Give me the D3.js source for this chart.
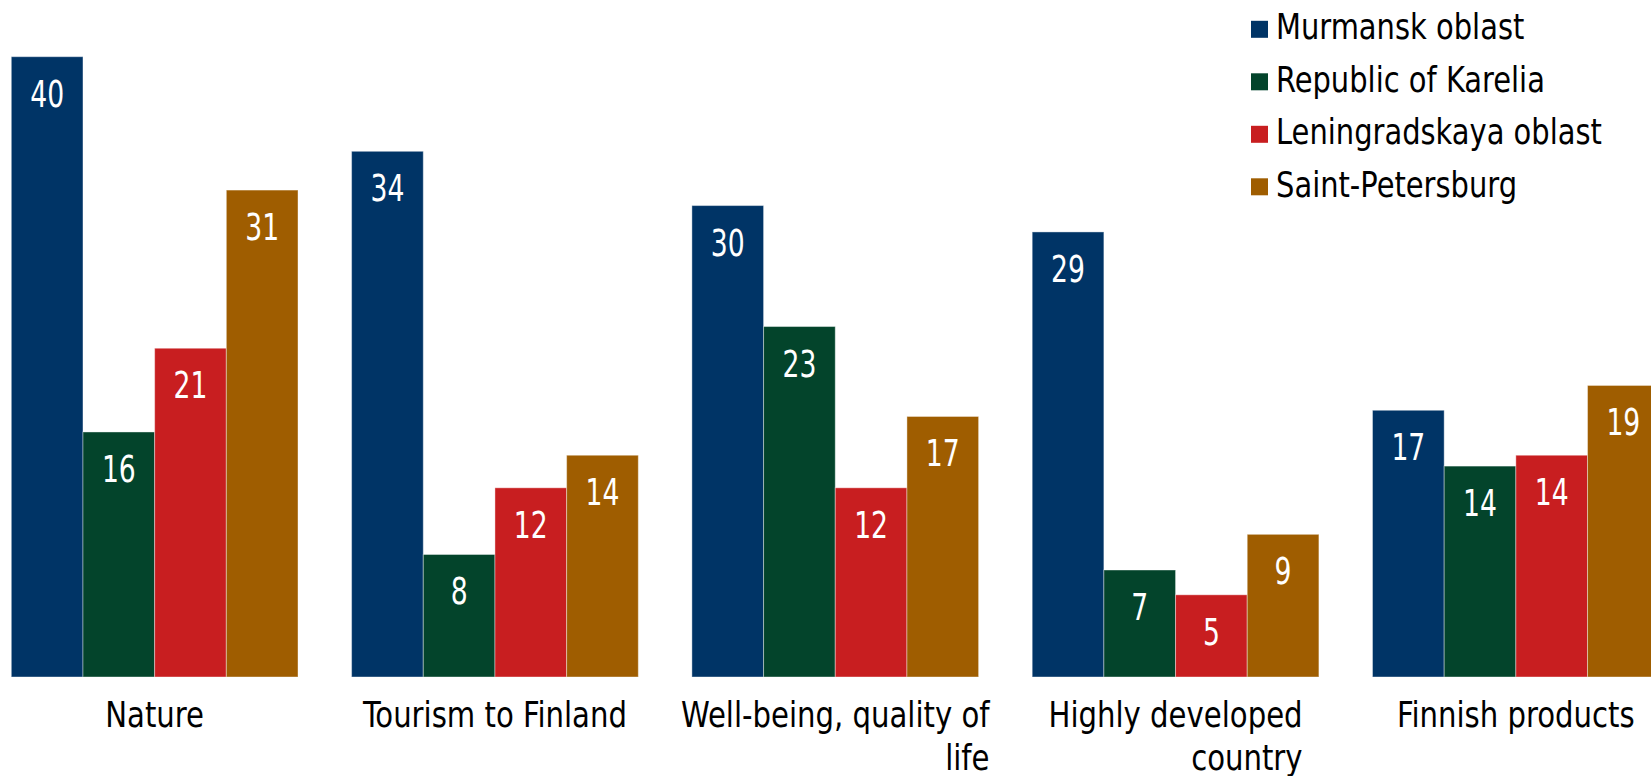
<!DOCTYPE html>
<html>
<head>
<meta charset="utf-8">
<script src="https://cdn.jsdelivr.net/npm/d3@7"></script>
<style>
  html, body { margin: 0; padding: 0; background: #ffffff; }
  svg { display: block; }
  text { font-family: "DejaVu Sans Condensed", "DejaVu Sans", sans-serif; }
</style>
</head>
<body>
<div id="chart"></div>
<script>
// DATA
const categories = ['Nature', 'Tourism to Finland', 'Well-being, quality of life', 'Highly developed country', 'Finnish products'];
const seriesNames = ['Murmansk oblast', 'Republic of Karelia', 'Leningradskaya oblast', 'Saint-Petersburg'];
const murmansk = [40, 33.9, 30.4, 28.7, 17.2];
const karelia = [15.8, 7.9, 22.6, 6.9, 13.6];
const leningrad = [21.2, 12.2, 12.2, 5.3, 14.3];
const spb = [31.4, 14.3, 16.8, 9.2, 18.8];
const colors = ['#003466', '#03442b', '#c81e20', '#9f5d00'];

const seriesValues = [murmansk, karelia, leningrad, spb];

// VIZ DIMENSIONS + MOUNTING
const width = 1651;
const height = 776;
const baseline = 677;
// the original face is a narrow DIN, so squeeze the condensed one a bit
const squeeze = 0.9;
const squeezeNum = 0.8;

let svg = d3.select('#chart').append('svg')
  .attr('width', width)
  .attr('height', height);

const x0 = d3.scaleBand()
  .domain(categories)
  .range([11.3, 1659.2])
  .paddingInner(0.1575)
  .paddingOuter(0)
  .align(0);

const x1 = d3.scaleBand()
  .domain(seriesNames)
  .range([0, x0.bandwidth()]);

const y = d3.scaleLinear()
  .domain([0, 40])
  .range([baseline, 56.7]);

const color = d3.scaleOrdinal().domain(seriesNames).range(colors);

// PREP DATA
const rows = [];
categories.forEach(function(cat, i) {
  seriesNames.forEach(function(s, j) {
    rows.push({ cat: cat, series: s, value: seriesValues[j][i] });
  });
});

// BARS
let bar = svg.selectAll('g.bar')
  .data(rows)
  .enter()
  .append('g')
  .attr('class', 'bar')
  .attr('transform', function(d) {
    return `translate(${x0(d.cat) + x1(d.series)}, 0)`;
  });

bar.append('rect')
  .attr('x', 0)
  .attr('y', d => y(d.value))
  .attr('width', x1.bandwidth())
  .attr('height', d => baseline - y(d.value))
  .style('fill', d => color(d.series))
  .style('stroke', 'rgba(255,255,255,0.4)')
  .style('stroke-width', 1);

bar.append('g')
  .attr('transform', d => `translate(${x1.bandwidth() / 2}, ${y(d.value) + 50}) scale(${squeezeNum}, 1)`)
  .append('text')
  .style('text-anchor', 'middle')
  .style('font-size', '37px')
  .style('fill', '#ffffff')
  .text(d => d3.format('.0f')(d.value));

// CATEGORY LABELS
const maxLabel = 330;
let cats = svg.selectAll('g.cat')
  .data(categories)
  .enter()
  .append('g')
  .attr('class', 'cat')
  .attr('transform', d => `translate(${x0(d) + x0.bandwidth() / 2}, 0)`);

cats.each(function(d) {
  const g = d3.select(this);
  const words = d.split(' ');
  const lines = [];
  let line = [];
  const probe = g.append('text').style('font-size', '36px');
  words.forEach(function(w) {
    line.push(w);
    probe.text(line.join(' '));
    if (probe.node().getComputedTextLength() * squeeze > maxLabel && line.length > 1) {
      line.pop();
      lines.push(line.join(' '));
      line = [w];
    }
  });
  lines.push(line.join(' '));
  probe.remove();

  const first = g.append('g')
    .attr('transform', `translate(0, 727) scale(${squeeze}, 1)`)
    .append('text')
    .style('font-size', '36px')
    .style('text-anchor', 'middle')
    .style('fill', '#000000')
    .text(lines[0]);
  const firstLen = first.node().getComputedTextLength() * squeeze;
  lines.slice(1).forEach(function(l, k) {
    g.append('g')
      .attr('transform', `translate(${firstLen / 2}, ${727 + 43 * (k + 1)}) scale(${squeeze}, 1)`)
      .append('text')
      .style('font-size', '36px')
      .style('text-anchor', 'end')
      .style('fill', '#000000')
      .text(l);
  });
});

// LEGEND
let legend = svg.selectAll('g.legend')
  .data(seriesNames)
  .enter()
  .append('g')
  .attr('class', 'legend')
  .attr('transform', (d, i) => `translate(1251, ${29.3 + i * 52.5})`);

legend.append('rect')
  .attr('x', 0)
  .attr('y', -8.5)
  .attr('width', 17)
  .attr('height', 17)
  .style('fill', d => color(d));

legend.append('g')
  .attr('transform', `translate(25, 9.7) scale(0.92, 1)`)
  .append('text')
  .style('font-size', '35px')
  .style('fill', '#000000')
  .text(d => d);
</script>
</body>
</html>
